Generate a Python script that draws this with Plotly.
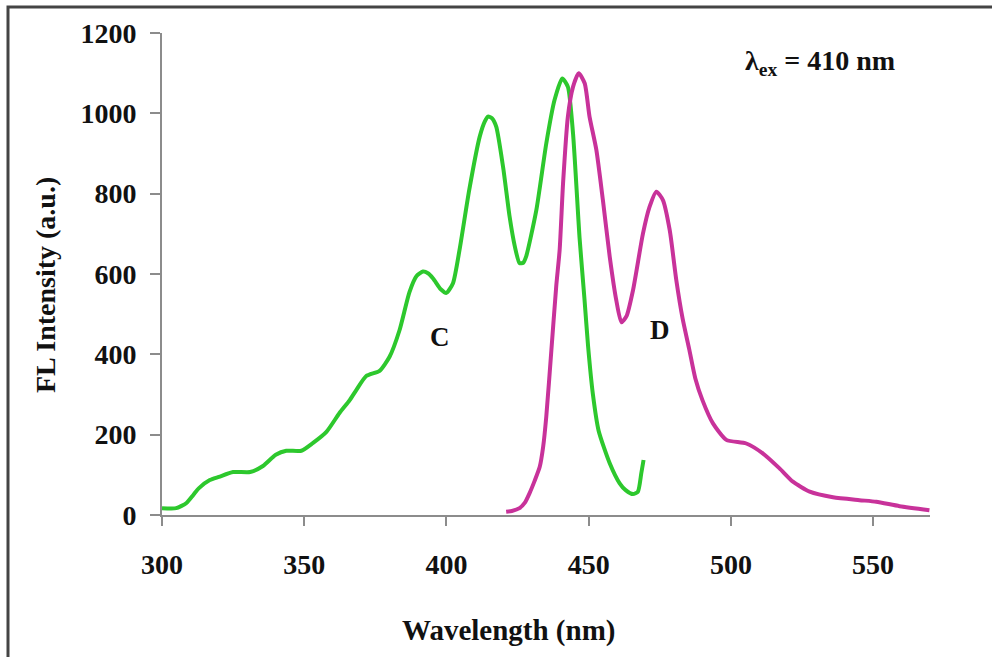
import plotly.graph_objects as go

# Curve C (green)
c_wavelength = [300, 305, 308.6, 311, 313, 316.8, 320, 325, 331, 335.5, 340, 343.7, 349, 353, 357.8,
                362.4, 366, 368.3, 371.8, 376.5, 380, 383.5, 387, 389.5, 391.7, 393.5, 395.3, 398, 400,
                402.3, 404.6, 408, 411.7, 413.5, 414.6, 416, 417.5, 419.9, 422.2, 424, 425.7, 427, 428,
                431.6, 435.1, 438, 440.7, 442.7, 444.5, 446.8, 448.5, 449.8, 451.5, 453.5, 457.4, 460.9,
                463, 465.6, 467.3, 468.5, 469.3]
c_intensity = [17, 17, 30, 50, 67, 87, 95, 107, 107, 122, 150, 160, 160, 179, 207,
               254, 286, 311, 346, 359, 394, 460, 555, 595, 606, 602, 589, 562, 553,
               577, 660, 809, 942, 980, 992, 988, 967, 867, 743, 670, 627, 628, 643,
               759, 925, 1033, 1087, 1066, 950, 690, 540, 420, 300, 210, 129, 79,
               62, 52, 58, 104, 137]

# Curve D (magenta)
d_wavelength = [421, 423, 425.7, 427.5, 429.2, 431, 432.8, 434, 435.1, 436.9, 438.6, 439.8, 441, 442.7,
                444.5, 446.5, 448.6, 450.3, 452.7, 455, 457.4, 459.7, 461.5, 463.3, 465.6, 469.1, 471.4,
                473.8, 476.1, 478.5, 480.8, 483, 485.4, 487.5, 490, 493.7, 498.4, 505.4, 511.3, 517.1,
                521.8, 527.7, 535.9, 545.2, 551.1, 559.3, 569.8]
d_intensity = [8, 10, 17, 30, 54, 85, 120, 170, 245, 411, 570, 660, 826, 992,
               1066, 1100, 1075, 992, 909, 784, 643, 535, 480, 495, 560, 701, 767,
               805, 784, 709, 585, 490, 411, 340, 286, 228, 187, 178, 153, 116,
               83, 58, 44, 37, 33, 22, 12]

x_ticks = [300, 350, 400, 450, 500, 550]
y_ticks = [0, 200, 400, 600, 800, 1000, 1200]

FONT = "Liberation Serif, Times New Roman, serif"
TXT = "#111111"
AX = "#8c8c8c"

# plot area in pixels: x 162..930, y 33..515
L, R, T, B = 162, 930, 33, 515
W_PLOT, H_PLOT = R - L, B - T


def px_x(p):
    return (p - L) / W_PLOT


def px_y(p):
    return (B - p) / H_PLOT


fig = go.Figure()
fig.add_trace(go.Scatter(x=c_wavelength, y=c_intensity, mode="lines",
                         line=dict(color="#2DC82D", width=4, shape="spline", smoothing=0.6),
                         showlegend=False))
fig.add_trace(go.Scatter(x=d_wavelength, y=d_intensity, mode="lines",
                         line=dict(color="#C8329A", width=4, shape="spline", smoothing=0.6),
                         showlegend=False))

fig.update_layout(
    width=992, height=657,
    margin=dict(l=L, r=992 - R, t=T, b=657 - B),
    paper_bgcolor="white", plot_bgcolor="white",
    font=dict(family=FONT, color=TXT),
    xaxis=dict(range=[300, 570], tickvals=x_ticks, showgrid=False, zeroline=False,
               showline=True, linecolor=AX, linewidth=2, ticks="outside", ticklen=9,
               tickcolor=AX, tickwidth=2, ticklabelstandoff=14,
               tickfont=dict(family=FONT, size=28, color=TXT, weight="bold")),
    yaxis=dict(range=[0, 1200], tickvals=y_ticks, showgrid=False, zeroline=False,
               showline=True, linecolor=AX, linewidth=2, ticks="outside", ticklen=10,
               tickcolor=AX, tickwidth=2, ticklabelstandoff=8,
               tickfont=dict(family=FONT, size=28, color=TXT, weight="bold")),
    annotations=[
        dict(xref="paper", yref="paper", x=px_x(508), y=px_y(630), text="Wavelength (nm)",
             showarrow=False, xanchor="center", yanchor="middle",
             font=dict(family=FONT, size=29, color=TXT, weight="bold")),
        dict(xref="paper", yref="paper", x=px_x(45), y=px_y(285), text="FL Intensity (a.u.)",
             showarrow=False, textangle=-90, xanchor="center", yanchor="middle",
             font=dict(family=FONT, size=28, color=TXT, weight="bold")),
        dict(x=397.6, y=443, text="C", showarrow=False,
             font=dict(family=FONT, size=27, color=TXT, weight="bold")),
        dict(x=475.2, y=460, text="D", showarrow=False,
             font=dict(family=FONT, size=27, color=TXT, weight="bold")),
        dict(x=531.5, y=1126, text="λ<sub>ex</sub> = 410 nm", showarrow=False,
             font=dict(family=FONT, size=28, color=TXT, weight="bold")),
    ],
    shapes=[
        dict(type="rect", xref="paper", yref="paper",
             x0=px_x(8), x1=px_x(1000),
             y0=px_y(680), y1=px_y(7),
             line=dict(color="#444444", width=3), layer="below"),
    ],
)

fig.write_html("out.html")
